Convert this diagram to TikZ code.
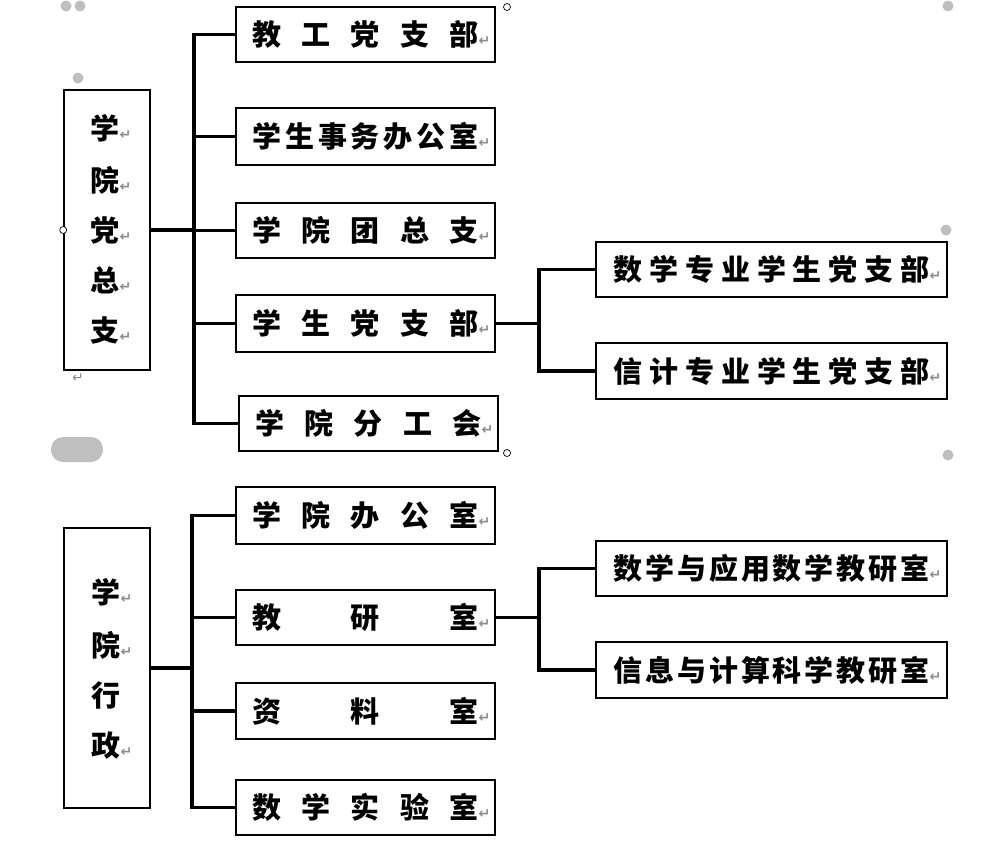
\documentclass[tikz,border=0pt]{standalone}
\usepackage{fontspec}
\newfontfamily\cjk{Noto Sans CJK SC}
\newfontfamily\dejavu{DejaVu Sans}
\newcommand{\retmark}{{\dejavu\fontsize{14pt}{14pt}\selectfont\textcolor{black!45}{↵}}}
\tikzset{
  box/.style={draw=black, line width=1.6pt, inner sep=0pt, fill=white},
  conn/.style={draw=black, line width=3.2pt, line cap=rect},
  chars/.style={font=\cjk\bfseries\fontsize{29pt}{29pt}\selectfont, inner sep=0pt},
  dot/.style={fill=black!25, draw=none},
  handle/.style={draw=black, line width=0.7pt, fill=white}
}
\newcommand{\spread}[2]{\makebox[#1]{#2}\rlap{\hspace{0pt}\raisebox{0pt}{\retmark}}}
\begin{document}
\begin{tikzpicture}[x=1pt,y=-1pt]
\useasboundingbox (0,0) rectangle (1000,859);
\fill[white] (0,0) rectangle (1000,859);
% decorative editor marks
\fill[dot] (66,6) circle (5.5);
\fill[dot] (80,6) circle (5.5);
\fill[dot] (78,78) circle (5.5);
\fill[dot] (948,6) circle (5.5);
\fill[dot] (946,230) circle (5.5);
\fill[dot] (948,455) circle (5.5);
\fill[dot, rounded corners=12pt] (51,437) rectangle (103,462);
% coordinates for trunks
\coordinate (tx1) at (194,0);
\coordinate (sx1) at (539,0);
\coordinate (tx2) at (192,0);
\coordinate (sx2) at (539,0);

% ===== top section =====
\node[box, minimum width=86pt, minimum height=280pt] (L1) at (107,230) {};
\node[box, minimum width=259pt, minimum height=55pt, chars] (a1) at (365.5,34.5) {\spread{226pt}{教\hfill 工\hfill 党\hfill 支\hfill 部}};
\node[box, minimum width=259pt, minimum height=57pt, chars] (a2) at (365.5,136.5) {\spread{226pt}{学\hfill 生\hfill 事\hfill 务\hfill 办\hfill 公\hfill 室}};
\node[box, minimum width=259pt, minimum height=55pt, chars] (a3) at (365.5,230.5) {\spread{226pt}{学\hfill 院\hfill 团\hfill 总\hfill 支}};
\node[box, minimum width=259pt, minimum height=57pt, chars] (a4) at (365.5,323.5) {\spread{226pt}{学\hfill 生\hfill 党\hfill 支\hfill 部}};
\node[box, minimum width=259pt, minimum height=55pt, chars] (a5) at (368.5,423.5) {\spread{226pt}{学\hfill 院\hfill 分\hfill 工\hfill 会}};
\node[box, minimum width=351pt, minimum height=55pt, chars] (r1) at (771.5,269.5) {\spread{316pt}{数\hfill 学\hfill 专\hfill 业\hfill 学\hfill 生\hfill 党\hfill 支\hfill 部}};
\node[box, minimum width=351pt, minimum height=56pt, chars] (r2) at (771.5,371) {\spread{316pt}{信\hfill 计\hfill 专\hfill 业\hfill 学\hfill 生\hfill 党\hfill 支\hfill 部}};
% vertical text of left box
\node[chars] (v1) at (105,128) {学\rlap{\retmark}};
\node[chars] (v2) at (105,180) {院\rlap{\retmark}};
\node[chars] (v3) at (105,230) {党\rlap{\retmark}};
\node[chars] (v4) at (105,280) {总\rlap{\retmark}};
\node[chars] (v5) at (105,330) {支\rlap{\retmark}};
\node[inner sep=0pt] (m1) at (78,378) {\retmark};
% connectors
\draw[conn] (L1.east) -- (L1.east -| tx1);
\draw[conn] (a1.west) -- (a1.west -| tx1) |- (a5.west);
\draw[conn] (a2.west) -- (a2.west -| tx1);
\draw[conn] (a3.west) -- (a3.west -| tx1);
\draw[conn] (a4.west) -- (a4.west -| tx1);
\draw[conn] (a4.east) -- (a4.east -| sx1);
\draw[conn] (r1.west) -- (r1.west -| sx1) |- (r2.west);
% handles
\draw[handle] (507,7) circle (3.5);
\draw[handle] (L1.west) circle (3.5);
\draw[handle] (507,453) circle (3.5);

% ===== bottom section =====
\node[box, minimum width=86pt, minimum height=280pt] (L2) at (107,668) {};
\node[box, minimum width=259pt, minimum height=57pt, chars] (c1) at (365.5,515.5) {\spread{226pt}{学\hfill 院\hfill 办\hfill 公\hfill 室}};
\node[box, minimum width=259pt, minimum height=55pt, chars] (c2) at (365.5,617.5) {\spread{226pt}{教\hfill 研\hfill 室}};
\node[box, minimum width=259pt, minimum height=56pt, chars] (c3) at (365.5,711) {\spread{226pt}{资\hfill 料\hfill 室}};
\node[box, minimum width=259pt, minimum height=55pt, chars] (c4) at (365.5,807.5) {\spread{226pt}{数\hfill 学\hfill 实\hfill 验\hfill 室}};
\node[box, minimum width=351pt, minimum height=55pt, chars] (s1) at (771.5,568.5) {\spread{316pt}{数\hfill 学\hfill 与\hfill 应\hfill 用\hfill 数\hfill 学\hfill 教\hfill 研\hfill 室}};
\node[box, minimum width=351pt, minimum height=56pt, chars] (s2) at (771.5,670) {\spread{316pt}{信\hfill 息\hfill 与\hfill 计\hfill 算\hfill 科\hfill 学\hfill 教\hfill 研\hfill 室}};
\node[chars] (w1) at (106,592.5) {学\rlap{\retmark}};
\node[chars] (w2) at (106,645) {院\rlap{\retmark}};
\node[chars] (w3) at (106,695) {行};
\node[chars] (w4) at (106,745) {政\rlap{\retmark}};
\draw[conn] (L2.east) -- (L2.east -| tx2);
\draw[conn] (c1.west) -- (c1.west -| tx2) |- (c4.west);
\draw[conn] (c2.west) -- (c2.west -| tx2);
\draw[conn] (c3.west) -- (c3.west -| tx2);
\draw[conn] (c2.east) -- (c2.east -| sx2);
\draw[conn] (s1.west) -- (s1.west -| sx2) |- (s2.west);
\end{tikzpicture}
\end{document}
